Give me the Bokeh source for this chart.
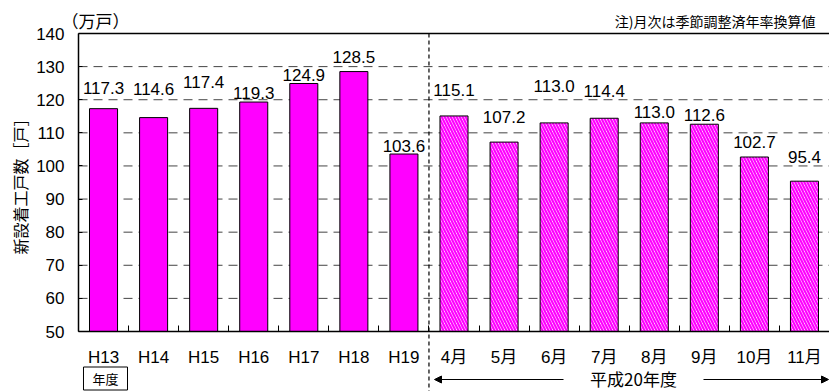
from bokeh.plotting import figure
from bokeh.models import Range1d, FixedTicker, Label, Arrow, NormalHead, ColumnDataSource
from bokeh.core.properties import value
from bokeh.embed import file_html
from bokeh.resources import INLINE

# Housing starts (annualised, 10k units): fiscal years, then monthly for FY2008 (H20)
year_labels = ["H13", "H14", "H15", "H16", "H17", "H18", "H19"]
year_values = [117.3, 114.6, 117.4, 119.3, 124.9, 128.5, 103.6]
month_labels = ["4月", "5月", "6月", "7月", "8月", "9月", "10月", "11月"]
month_values = [115.1, 107.2, 113.0, 114.4, 113.0, 112.6, 102.7, 95.4]
y_ticks = [50, 60, 70, 80, 90, 100, 110, 120, 130, 140]

# how far (px) each value label sits above its bar
label_lift = [21, 29, 26, 9, 8, 15, 8, 26, 25, 37, 27, 11, 9, 15, 24]

NUM_FONT = "Liberation Sans, Noto Sans CJK JP"
JP_FONT = "Noto Sans CJK JP"

# page geometry (px): the plotting box sits inside a full-canvas frame so that
# the captions and arrows below the axis can be drawn as in-frame annotations
W, H = 829, 391
BOX_L, BOX_R, BOX_T, BOX_B = 78, 829, 33, 331

categories = year_labels + month_labels
n_year = len(year_labels)
n_all = len(categories)
y_lo, y_hi = y_ticks[0], y_ticks[-1]

px_per_x = (BOX_R - BOX_L) / n_all
px_per_y = (BOX_B - BOX_T) / (y_hi - y_lo)

def dx(px):
    return (px - BOX_L) / px_per_x

def dy(py):
    return y_hi - (py - BOX_T) / px_per_y

p = figure(width=W, height=H, output_backend="svg", toolbar_location=None,
           x_range=Range1d(dx(0), dx(W)), y_range=Range1d(dy(H), dy(0)),
           min_border=0)
p.background_fill_color = "white"
p.border_fill_color = "white"
p.outline_line_color = None
p.xgrid.visible = False
p.ygrid.visible = False

# dashed horizontal guides at every y tick, then the solid top edge of the box
p.segment(x0=0, x1=n_all, y0=y_ticks[:-1], y1=y_ticks[:-1],
          line_color="#444444", line_dash="9 6", line_width=1)
p.segment(x0=0, x1=n_all, y0=y_hi, y1=y_hi, line_color="black", line_width=1.3)

# bars: fiscal years solid, months hatched
yx = [i + 0.5 for i in range(n_year)]
mx = [n_year + i + 0.5 for i in range(len(month_labels))]
p.vbar(x=yx, top=year_values, bottom=y_lo, width=0.56,
       fill_color="#FF00FF", line_color="black", line_width=1)
p.vbar(x=mx, top=month_values, bottom=y_lo, width=0.56,
       fill_color="white", hatch_pattern="\\", hatch_color="#FF00FF",
       hatch_scale=6, hatch_weight=2.2, line_color="black", line_width=1)

# value labels
all_vals = year_values + month_values
src = ColumnDataSource(dict(
    x=yx + mx, y=all_vals,
    t=[f"{v:.1f}" for v in all_vals],
    dy=[-d for d in label_lift],
))
p.text(x="x", y="y", text="t", y_offset="dy", source=src,
       text_align="center", text_baseline="middle",
       text_font=value(NUM_FONT), text_font_size="17px", text_color="black")

# x axis pinned to y=50: names at bar centres, small inward ticks between bars
p.xaxis.fixed_location = y_lo
p.xaxis.bounds = (0, n_all)
p.xaxis.ticker = FixedTicker(ticks=[i + 0.5 for i in range(n_all)],
                             minor_ticks=list(range(1, n_all)))
p.xaxis.major_label_overrides = {i + 0.5: c for i, c in enumerate(categories)}
p.xaxis.major_tick_in = 0
p.xaxis.major_tick_out = 0
p.xaxis.minor_tick_in = 6
p.xaxis.minor_tick_out = 0
p.xaxis.minor_tick_line_color = "black"
p.xaxis.axis_line_color = "black"
p.xaxis.axis_line_width = 1.5
p.xaxis.major_label_standoff = 16
p.xaxis.major_label_text_font = NUM_FONT
p.xaxis.major_label_text_font_size = "17px"
p.xaxis.major_label_text_color = "black"

# y axis pinned to the left edge of the box
p.yaxis.fixed_location = 0
p.yaxis.bounds = (y_lo, y_hi)
p.yaxis.ticker = FixedTicker(ticks=y_ticks)
p.yaxis.major_tick_in = 4
p.yaxis.major_tick_out = 0
p.yaxis.minor_tick_line_color = None
p.yaxis.axis_line_color = "black"
p.yaxis.axis_line_width = 1.5
p.yaxis.major_label_standoff = 14
p.yaxis.major_label_text_font = NUM_FONT
p.yaxis.major_label_text_font_size = "17px"
p.yaxis.major_label_text_color = "black"
p.yaxis.axis_label = "新設着工戸数［戸］"
p.yaxis.axis_label_text_font = JP_FONT
p.yaxis.axis_label_text_font_size = "16px"
p.yaxis.axis_label_text_font_style = "normal"
p.yaxis.axis_label_text_color = "black"
p.yaxis.axis_label_standoff = 1

# separator between fiscal-year and monthly sections
p.add_layout(Arrow(end=None, x_start=n_year, y_start=y_hi, x_end=n_year, y_end=dy(H + 5),
                   line_color="black", line_width=1.2, line_dash="4 3"))

# unit and note above the box
p.add_layout(Label(x=dx(95), y=dy(20), text="（万戸）", text_align="center", text_baseline="middle",
                   text_font=JP_FONT, text_font_size="17px", text_color="black"))
p.add_layout(Label(x=dx(815), y=dy(20), text="注)月次は季節調整済年率換算値", text_align="right",
                   text_baseline="middle", text_font=JP_FONT, text_font_size="14px",
                   text_color="black"))

# boxed "年度" under the first year
p.add_layout(Label(x=dx(105), y=dy(378), text="年度", text_align="center", text_baseline="middle",
                   text_font=JP_FONT, text_font_size="13px", text_color="black",
                   border_line_color="black", border_line_width=1,
                   background_fill_color="white", padding=(9, 2)))

# span arrows for FY2008 months
yarr = dy(379)
p.add_layout(Arrow(end=NormalHead(size=7, fill_color="black", line_color="black"),
                   x_start=dx(563), y_start=yarr, x_end=dx(434), y_end=yarr,
                   line_color="black", line_width=1.2))
p.add_layout(Arrow(end=NormalHead(size=7, fill_color="black", line_color="black"),
                   x_start=dx(703), y_start=yarr, x_end=dx(828), y_end=yarr,
                   line_color="black", line_width=1.2))
p.add_layout(Label(x=dx(633), y=dy(378), text="平成20年度", text_align="center",
                   text_baseline="middle", text_font=JP_FONT, text_font_size="17px",
                   text_color="black"))

open("out.html", "w").write(file_html(p, INLINE))
